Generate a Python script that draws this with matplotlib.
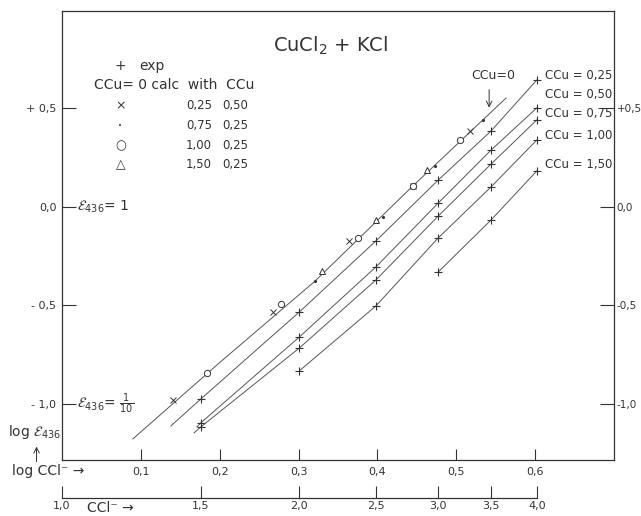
import matplotlib.pyplot as plt
import numpy as np

# experimental data: Cl- concentration and log extinction for each Cu concentration
ccl_exp = [1.5, 2.0, 2.5, 3.0, 3.5, 4.0]
log_eps_025 = [-0.975, -0.533, -0.173, 0.137, 0.386, 0.645]
log_eps_050 = [-1.096, -0.660, -0.305, 0.020, 0.289, 0.503]
log_eps_075 = [-1.117, -0.716, -0.371, -0.046, 0.218, 0.442]
ccl_100 = [2.0, 2.5, 3.0, 3.5, 4.0]
log_eps_100 = [-0.832, -0.503, -0.157, 0.102, 0.340]
ccl_150 = [3.0, 3.5, 4.0]
log_eps_150 = [-0.330, -0.066, 0.183]

# lower ends of the drawn curves (log CCl, log eps)
start_025 = (0.138, -1.112)
start_050 = (0.171, -1.117)
start_075 = (0.1675, -1.147)

# CCu = 0 curve
calc_line_x = [0.0898, 0.200, 0.321, 0.445, 0.563]
calc_line_y = [-1.178, -0.790, -0.376, 0.107, 0.553]

# calculated points for CCu = 0
cross_x = [0.1406, 0.2675, 0.364, 0.445, 0.517]
cross_y = [-0.980, -0.533, -0.173, 0.107, 0.386]
dot_x = [0.321, 0.407, 0.473, 0.534]
dot_y = [-0.376, -0.050, 0.208, 0.442]
circle_x = [0.1838, 0.2777, 0.375, 0.445, 0.505]
circle_y = [-0.843, -0.492, -0.157, 0.107, 0.340]
tri_x = [0.330, 0.398, 0.463]
tri_y = [-0.325, -0.066, 0.188]

log_ticks = [0.1, 0.2, 0.3, 0.4, 0.5, 0.6]
log_tick_labels = ["0,1", "0,2", "0,3", "0,4", "0,5", "0,6"]
y_ticks = [0.5, 0.0, -0.5, -1.0]
y_tick_labels = ["+ 0,5", "0,0", "- 0,5", "- 1,0"]
y_tick_labels_r = ["+0,5", "0,0", "-0,5", "-1,0"]
conc_ticks = [1.0, 1.5, 2.0, 2.5, 3.0, 3.5, 4.0]
conc_tick_labels = ["1,0", "1,5", "2,0", "2,5", "3,0", "3,5", "4,0"]

line_c = "#555555"
text_c = "#333333"

fig = plt.figure(figsize=(6.41, 5.16), dpi=100)
ax = fig.add_axes([0.0967, 0.1085, 0.8613, 0.8702])
ax.set_xlim(0, 0.70)
ax.set_ylim(-1.285, 0.995)

# experimental curves
series = [
    (ccl_exp, log_eps_025, start_025),
    (ccl_exp, log_eps_050, start_050),
    (ccl_exp, log_eps_075, start_075),
    (ccl_100, log_eps_100, None),
    (ccl_150, log_eps_150, None),
]
for conc, vals, start in series:
    x = list(np.log10(conc))
    y = list(vals)
    if start is not None:
        x = [start[0]] + x
        y = [start[1]] + y
    ax.plot(x, y, color=line_c, lw=0.7)
    ax.plot(np.log10(conc), vals, ls="none", marker="+", ms=5.5, mew=0.8, color=text_c)

# CCu = 0 calculated curve
ax.plot(calc_line_x, calc_line_y, color=line_c, lw=0.7)
ax.plot(cross_x, cross_y, ls="none", marker="x", ms=4, mew=0.7, color=text_c)
ax.plot(dot_x, dot_y, ls="none", marker=".", ms=2.5, color=text_c)
ax.plot(circle_x, circle_y, ls="none", marker="o", ms=4.5, mew=0.7, mfc="white", color=text_c)
ax.plot(tri_x, tri_y, ls="none", marker="^", ms=5, mew=0.7, mfc="white", color=text_c)

# axes styling
for s in ax.spines.values():
    s.set_color(text_c)
    s.set_linewidth(0.9)
ax.set_xticks(log_ticks)
ax.set_xticklabels(log_tick_labels, fontsize=8, color=text_c)
ax.tick_params(axis="x", direction="in", length=8, width=0.8, pad=5, colors=text_c)
ax.set_yticks(y_ticks)
ax.set_yticklabels(y_tick_labels, fontsize=8, color=text_c)
ax.tick_params(axis="y", direction="in", length=10, width=0.8, pad=4, colors=text_c)

axr = ax.twinx()
axr.set_ylim(ax.get_ylim())
axr.set_yticks(y_ticks)
axr.set_yticklabels(y_tick_labels_r, fontsize=7.5, color=text_c)
axr.tick_params(axis="y", direction="in", length=10, width=0.8, pad=2, colors=text_c)
for s in axr.spines.values():
    s.set_visible(False)

# second scale: CCl concentration
ax2 = fig.add_axes([0.0967, 0.0349, 0.8613, 0.001])
ax2.set_xlim(0, 0.70)
ax2.set_yticks([])
for side in ["top", "left", "right"]:
    ax2.spines[side].set_visible(False)
ax2.spines["bottom"].set_bounds(0, np.log10(4.0))
ax2.spines["bottom"].set_color(text_c)
ax2.spines["bottom"].set_linewidth(0.9)
ax2.set_xticks(np.log10(conc_ticks))
ax2.set_xticklabels(conc_tick_labels, fontsize=8, color=text_c)
ax2.tick_params(axis="x", direction="in", length=9, width=0.8, pad=2, colors=text_c)
ax2.patch.set_alpha(0)

# texts
ax.text(0.34, 0.82, "CuCl$_2$ + KCl", fontsize=14, color=text_c, ha="center", va="center")

lx = 0.074
ax.text(lx, 0.715, "+", fontsize=10, color=text_c, ha="center", va="center")
ax.text(0.098, 0.715, "exp", fontsize=10, color=text_c, ha="left", va="center")
ax.text(0.04, 0.62, "CCu= 0 calc  with  CCu", fontsize=10, color=text_c, ha="left", va="center")
legend_rows = [("\u00d7", "0,25", "0,50"), ("\u2022", "0,75", "0,25"),
               ("\u25cb", "1,00", "0,25"), ("\u25b3", "1,50", "0,25")]
for i, (sym, a, b) in enumerate(legend_rows):
    yy = 0.513 - i * 0.1
    ax.text(lx, yy, sym, fontsize=9 if i != 1 else 5, color=text_c, ha="center", va="center")
    ax.text(0.190, yy, a, fontsize=8.5, color=text_c, ha="right", va="center")
    ax.text(0.203, yy, b, fontsize=8.5, color=text_c, ha="left", va="center")

ax.text(0.019, 0.0, r"$\mathcal{E}_{436}$= 1", fontsize=10, color=text_c, ha="left", va="center")
ax.text(0.019, -1.0, r"$\mathcal{E}_{436}$= $\frac{1}{10}$", fontsize=10, color=text_c,
        ha="left", va="center")

# curve labels
label_pos = [("0,25", 0.665), ("0,50", 0.569), ("0,75", 0.477), ("1,00", 0.365), ("1,50", 0.218)]
for lab, yy in label_pos:
    ax.text(0.612, yy, "CCu = " + lab, fontsize=8.5, color=text_c, ha="left", va="center")
ax.text(0.547, 0.665, "CCu=0", fontsize=9, color=text_c, ha="center", va="center")
ax.annotate("", xy=(0.5416, 0.49), xytext=(0.5416, 0.61),
            arrowprops=dict(arrowstyle="->", color=text_c, lw=0.7))

# axis captions
fig.text(0.018, 0.087, "log CCl\u207b \u2192", fontsize=10, color=text_c, ha="left", va="center")
fig.text(0.135, 0.015, "CCl\u207b \u2192", fontsize=10, color=text_c, ha="left", va="center")
fig.text(0.012, 0.163, r"log $\mathcal{E}_{436}$", fontsize=10, color=text_c, ha="left", va="center")
ax.annotate("", xy=(0.057, 0.14), xytext=(0.057, 0.1),
            xycoords="figure fraction", textcoords="figure fraction",
            annotation_clip=False,
            arrowprops=dict(arrowstyle="->", color=text_c, lw=0.7))

fig.savefig("out.png", dpi=100)
